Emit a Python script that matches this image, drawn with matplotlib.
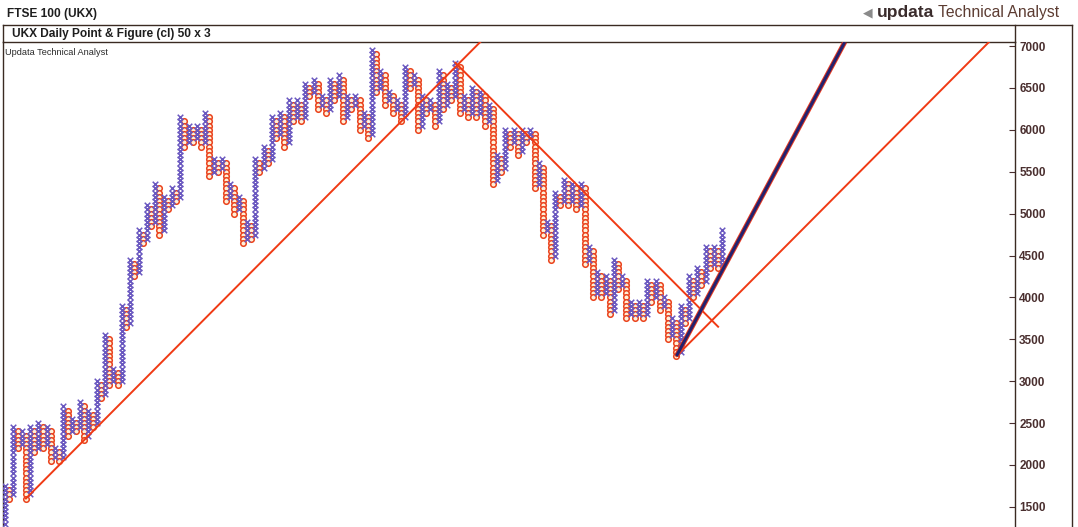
import matplotlib.pyplot as plt
from matplotlib.lines import Line2D

plt.rcParams['font.family'] = ['Liberation Sans', 'DejaVu Sans']

# reversal prices of the point & figure columns (50 x 3), first value = start of first X column
pivots = [
    1300, 1750, 1600, 2450, 2200, 2400, 1600, 2450, 2150, 2500, 2200, 2450, 2050, 2200, 2050, 2700,
    2350, 2550, 2400, 2750, 2300, 2650, 2450, 3000, 2800, 3550, 2950, 3150, 2950, 3900, 3650, 4450,
    4250,
    4800, 4650, 5100, 4850, 5350, 4750, 5200, 5050, 5300, 5150, 6150, 5800, 6050, 5850, 6050, 5800,
    6200, 5450, 5650, 5500, 5650, 5150, 5350, 5000, 5200, 4650, 4900, 4700, 5650, 5500, 5800, 5600,
    6150, 5900, 6200,
    5800, 6350, 6100, 6350, 6100, 6550, 6400, 6600, 6250, 6400, 6200, 6600, 6350, 6650, 6100, 6400,
    6250, 6400, 6000, 6200, 5900, 6950, 6450, 6700, 6300, 6450, 6200, 6350, 6100, 6750, 6500, 6650,
    6000, 6400, 6200, 6350, 6050, 6700,
    6250, 6550, 6350, 6800, 6200, 6400, 6150, 6500, 6150, 6450, 6050, 6300, 5350, 5700, 5500, 6000,
    5800, 6000, 5700, 6000, 5850, 6000, 5300, 5600, 4750, 4900, 4450, 5250, 5100, 5400, 5100, 5350,
    5050, 5350, 4400, 4600, 4000, 4300,
    4000, 4250, 3800, 4450, 4100, 4250, 3750, 3950, 3750, 3950, 3750, 4200, 3950, 4200, 3850, 4000,
    3500, 3750, 3300, 3900, 3700, 4250, 4000, 4350, 4150, 4600, 4350, 4600, 4350, 4800,
]
box = 50

# trend lines: (start column, start price, price change per column)
support_line = (5, 1600, 50)
resistance_line = (108, 6800, -50, 171)
new_support = (161, 3300, 50)
steep_line = (161, 3300, 92.8)

yticks = [1500, 2000, 2500, 3000, 3500, 4000, 4500, 5000, 5500, 6000, 6500, 7000]

W, H = 1078, 527
fig = plt.figure(figsize=(W / 100, H / 100), dpi=100)
fig.patch.set_facecolor('white')

def fx(px):
    return px / W

def fy(py):
    return 1 - py / H

ax = fig.add_axes([fx(3), 0, fx(1015) - fx(3), fy(42)])
ax.set_facecolor('white')

# build columns
xs_x, ys_x, xs_o, ys_o = [], [], [], []
for i in range(1, len(pivots)):
    col = i - 1
    prev, cur = pivots[i - 1], pivots[i]
    if cur > prev:
        p = prev if i == 1 else prev + box
        while p <= cur:
            xs_x.append(col)
            ys_x.append(p)
            p += box
    else:
        p = prev - box
        while p >= cur:
            xs_o.append(col)
            ys_o.append(p)
            p -= box

ax.scatter(xs_o, ys_o, marker='o', s=16, facecolors='#fff0d8', edgecolors='#ea421c',
           linewidths=1.1, zorder=3)
ax.scatter(xs_x, ys_x, marker='x', s=16, color='#6a58c0', linewidths=1.1, zorder=3)

ytop, ybot = 7048, 1260
ncols_view = 242.2

# 45 degree trend lines
c0, p0, k = support_line
c1 = c0 + (ytop + 100 - p0) / k
ax.plot([c0, c1], [p0, p0 + k * (c1 - c0)], color='#f03a14', lw=1.4, zorder=4)

c0, p0, k, cend = resistance_line
ax.plot([c0, cend], [p0, p0 + k * (cend - c0)], color='#f03a14', lw=1.4, zorder=4)

c0, p0, k = new_support
c1 = c0 + (ytop + 100 - p0) / k
ax.plot([c0, c1], [p0, p0 + k * (c1 - c0)], color='#f03a14', lw=1.4, zorder=4)

c0, p0, k = steep_line
c1 = c0 + (ytop - p0) / k
ax.plot([c0, c1], [p0, ytop], color='#e83a20', lw=3.6, zorder=5, solid_capstyle='butt')
ax.plot([c0, c1], [p0, ytop], color='#24226e', lw=2.2, zorder=6, solid_capstyle='butt')

ax.set_xlim(-0.5, ncols_view)
ax.set_ylim(ybot, ytop)
ax.set_xticks([])
ax.yaxis.tick_right()
ax.set_yticks(yticks)
ax.set_yticklabels([str(v) for v in yticks], fontsize=8.5, fontweight='bold', color='#4a2f2f')
ax.tick_params(axis='y', direction='in', length=4, width=0.8, pad=3, colors='#4a2f2f')
for lab in ax.get_yticklabels():
    lab.set_color('#4a2f2f')
ax.spines['bottom'].set_visible(False)
for s in ['left', 'top', 'right']:
    ax.spines[s].set_color('#3a2a22')
    ax.spines[s].set_linewidth(1.0)

ax.text(0.0015, 0.988, 'Updata Technical Analyst', transform=ax.transAxes, fontsize=6.6,
        color='#2a2a2a', va='top', ha='left')

# header band and outer frame
fig.add_artist(Line2D([fx(3), fx(1072)], [fy(25), fy(25)], color='#3a2a22', lw=1.0))
fig.add_artist(Line2D([fx(1072), fx(1072)], [fy(25), 0], color='#3a2a22', lw=1.0))
fig.add_artist(Line2D([fx(3), fx(3)], [fy(25), fy(42)], color='#3a2a22', lw=1.0))
fig.add_artist(Line2D([fx(1015), fx(1015)], [fy(25), fy(42)], color='#3a2a22', lw=1.0))

fig.text(fx(7), fy(14), 'FTSE 100 (UKX)', fontsize=8.6, fontweight='bold', color='#1e1e1e',
         va='center', ha='left')
fig.text(fx(12), fy(33.5), 'UKX Daily Point & Figure (cl) 50 x 3', fontsize=8.6,
         fontweight='bold', color='#1e1e1e', va='center', ha='left')

fig.text(fx(863), fy(13), '\u25c0', fontsize=9, color='#8a8a8a', va='center', ha='left',
         family=['DejaVu Sans'])
fig.text(fx(877), fy(12), 'updata', fontsize=12.5, fontweight='bold', color='#3a2c2c',
         va='center', ha='left')
fig.text(fx(938), fy(13), 'Technical Analyst', fontsize=11.3, color='#5c3c32',
         va='center', ha='left')

fig.savefig('out.png', dpi=100, facecolor='white')
